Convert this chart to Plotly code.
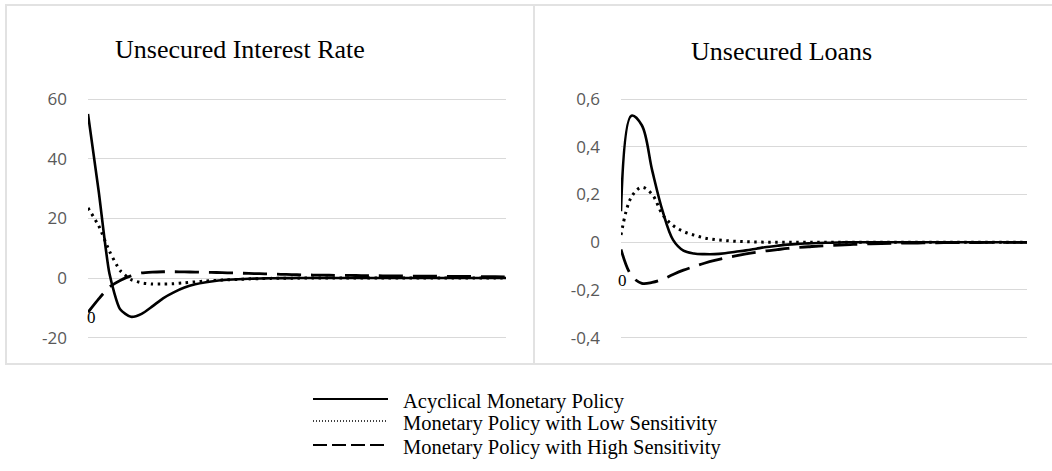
import plotly.graph_objects as go

W, H = 1052, 471

periods = list(range(40))

# Unsecured Interest Rate
rate_acyclical = [55, 29, 1.5, -10.5, -13, -12, -9.5, -6.8, -4.8, -3.2, -2.1, -1.4, -0.9, -0.6, -0.4,
                  -0.25, -0.15, -0.08, -0.04, -0.02, 0, 0, 0, 0, 0, 0, 0, 0, 0, 0,
                  0, 0, 0, 0, 0, 0, 0, 0, 0, 0]
rate_low = [23.5, 17.5, 9, 2.5, -0.5, -1.6, -2.0, -2.0, -1.9, -1.6, -1.3, -1.0, -0.8, -0.6, -0.45,
            -0.3, -0.2, -0.12, -0.08, -0.05, -0.03, -0.02, -0.01, 0, 0, 0, 0, 0, 0, 0,
            0, 0, 0, 0, 0, 0, 0, 0, 0, 0]
rate_high = [-11.5, -7, -3, -0.8, 0.7, 1.7, 2.0, 2.1, 2.1, 2.05, 2.0, 1.9, 1.85, 1.75, 1.65,
             1.55, 1.45, 1.35, 1.25, 1.15, 1.05, 1.0, 0.95, 0.9, 0.87, 0.84, 0.8, 0.77, 0.74, 0.71,
             0.68, 0.65, 0.62, 0.59, 0.56, 0.53, 0.5, 0.47, 0.44, 0.41]

# Unsecured Loans
loans_acyclical = [0.13, 0.53, 0.49, 0.30, 0.13, 0.01, -0.035, -0.047, -0.05, -0.05, -0.046, -0.04,
                   -0.034, -0.027, -0.02, -0.015, -0.01, -0.007, -0.005, -0.003, -0.002, -0.001,
                   0, 0, 0, 0, 0, 0, 0, 0, 0, 0, 0, 0, 0, 0, 0, 0, 0, 0]
loans_low = [0.03, 0.19, 0.23, 0.20, 0.115, 0.07, 0.045, 0.03, 0.018, 0.011, 0.007, 0.004, 0.002,
             0.001, 0, 0, 0, 0, 0, 0, 0, 0, 0, 0, 0, 0, 0, 0, 0, 0, 0, 0, 0, 0, 0, 0, 0, 0, 0, 0]
loans_high = [-0.03, -0.14, -0.172, -0.168, -0.155, -0.135, -0.117, -0.102, -0.088, -0.076, -0.066,
              -0.057, -0.049, -0.042, -0.036, -0.031, -0.026, -0.022, -0.019, -0.016, -0.014,
              -0.012, -0.010, -0.008, -0.007, -0.006, -0.005, -0.004, -0.0035, -0.003, -0.0025,
              -0.002, -0.002, -0.0015, -0.0015, -0.001, -0.001, -0.001, -0.001, -0.001]

rate_ticks = [-20, 0, 20, 40, 60]
rate_ticktext = ["-20", "0", "20", "40", "60"]
loans_ticks = [-0.4, -0.2, 0, 0.2, 0.4, 0.6]
loans_ticktext = ["-0,4", "-0,2", "0", "0,2", "0,4", "0,6"]

titles = ["Unsecured Interest Rate", "Unsecured Loans"]
series_names = ["Acyclical Monetary Policy",
                "Monetary Policy with Low Sensitivity",
                "Monetary Policy with High Sensitivity"]

SERIF = "Liberation Serif, Times New Roman, serif"
SANS = "Open Sans, Noto Sans, sans-serif"

styles = [dict(color="black", width=2.6, dash="solid"),
          dict(color="black", width=3, dash="2.5px,4.5px"),
          dict(color="black", width=2.8, dash="24px,10px")]

fig = go.Figure()
left_sets = [rate_acyclical, rate_low, rate_high]
right_sets = [loans_acyclical, loans_low, loans_high]
for name, ys, st in zip(series_names, left_sets, styles):
    fig.add_trace(go.Scatter(x=periods, y=ys, mode="lines", name=name,
                             line=dict(shape="spline", smoothing=0.6, **st),
                             xaxis="x", yaxis="y", showlegend=False))
for name, ys, st in zip(series_names, right_sets, styles):
    fig.add_trace(go.Scatter(x=periods, y=ys, mode="lines", name=name,
                             line=dict(shape="spline", smoothing=1.0, **st),
                             xaxis="x2", yaxis="y2", showlegend=False))

def px_x(p):
    return p / W

def px_y(p):
    return 1 - p / H

pad = 2.5
ydom = [px_y(337.7 + pad), px_y(99 - pad)]
upp_l = 80 / (337.7 - 99)
upp_r = 1.0 / (337.7 - 99)

grid = dict(showgrid=True, gridcolor="#d9d9d9", gridwidth=1.2, zeroline=False, showline=False,
            ticks="", tickfont=dict(family=SANS, size=17, color="#595959"), ticklabelstandoff=20,
            automargin=False)

fig.update_layout(
    template="none",
    width=W, height=H,
    margin=dict(l=0, r=0, t=0, b=0, pad=0, autoexpand=False),
    paper_bgcolor="white", plot_bgcolor="white",
    xaxis=dict(domain=[px_x(88), px_x(506)], range=[0, 39], visible=False, automargin=False),
    xaxis2=dict(domain=[px_x(621), px_x(1027)], range=[0, 39], visible=False, anchor="y2", automargin=False),
    yaxis=dict(domain=ydom, range=[-20 - pad * upp_l, 60 + pad * upp_l], tickvals=rate_ticks,
               ticktext=rate_ticktext, anchor="x", **grid),
    yaxis2=dict(domain=ydom, range=[-0.4 - pad * upp_r, 0.6 + pad * upp_r], tickvals=loans_ticks,
                ticktext=loans_ticktext, anchor="x2", **grid),
    showlegend=False,
)

border = dict(color="#e2e2e2", width=2)
fig.add_shape(type="rect", xref="paper", yref="paper", x0=px_x(6), x1=px_x(534), y0=px_y(364), y1=px_y(5),
              line=border, layer="below")
fig.add_shape(type="rect", xref="paper", yref="paper", x0=px_x(534), x1=px_x(1060), y0=px_y(364), y1=px_y(5),
              line=border, layer="below")

fig.add_annotation(text=titles[0], xref="paper", yref="paper", x=px_x(240), y=px_y(50), showarrow=False,
                   xanchor="center", yanchor="middle", font=dict(family=SERIF, size=26, color="black"))
fig.add_annotation(text=titles[1], xref="paper", yref="paper", x=px_x(781), y=px_y(52), showarrow=False,
                   xanchor="center", yanchor="middle", font=dict(family=SERIF, size=26, color="black"))

fig.add_annotation(text="0", xref="paper", yref="paper", x=px_x(91), y=px_y(317), showarrow=False,
                   xanchor="center", yanchor="middle", font=dict(family=SERIF, size=17, color="black"))
fig.add_annotation(text="0", xref="paper", yref="paper", x=px_x(622), y=px_y(280), showarrow=False,
                   xanchor="center", yanchor="middle", font=dict(family=SERIF, size=17, color="black"))

leg_rows = [399, 421, 445]
leg_styles = [dict(color="black", width=2.2, dash="solid"),
              dict(color="black", width=1.3, dash="1px,2px"),
              dict(color="black", width=2, dash="14px,5px")]
for name, yy, st in zip(series_names, leg_rows, leg_styles):
    fig.add_shape(type="line", xref="paper", yref="paper", x0=px_x(313), x1=px_x(388), y0=px_y(yy), y1=px_y(yy),
                  line=st)
    fig.add_annotation(text=name, xref="paper", yref="paper", x=px_x(401), y=px_y(yy + 2), showarrow=False,
                       xanchor="left", yanchor="middle", font=dict(family=SERIF, size=20.5, color="black"))

fig.write_html("out.html", config={"displayModeBar": False},
               post_script="document.body.style.margin='0';")
